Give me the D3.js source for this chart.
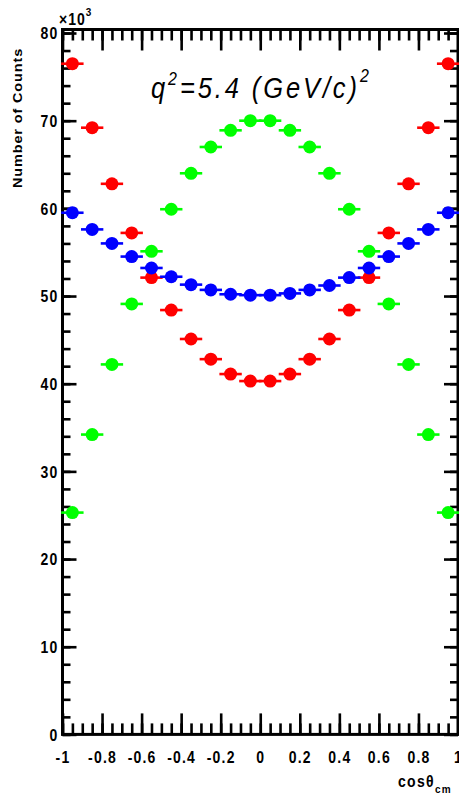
<!DOCTYPE html>
<html>
<head>
<meta charset="utf-8">
<script src="https://cdn.jsdelivr.net/npm/d3@7"></script>
<style>
  html, body { margin: 0; padding: 0; background: #fff; overflow: hidden; }
  svg { display: block; }
</style>
</head>
<body>
<script>
// cos(theta_cm) bin centres (bin width 0.1)
const binCenters = [-0.95, -0.85, -0.75, -0.65, -0.55, -0.45, -0.35, -0.25, -0.15, -0.05,
                     0.05,  0.15,  0.25,  0.35,  0.45,  0.55,  0.65,  0.75,  0.85,  0.95];
const binHalfWidth = 0.05;

// Number of counts per bin, in units of 10^3
const redCounts   = [76.5, 69.2, 62.8, 57.2, 52.1, 48.4, 45.1, 42.8, 41.1, 40.3,
                     40.3, 41.1, 42.8, 45.1, 48.4, 52.1, 57.2, 62.8, 69.2, 76.5];
const greenCounts = [25.3, 34.2, 42.2, 49.1, 55.1, 59.9, 64.0, 67.0, 68.9, 70.0,
                     70.0, 68.9, 67.0, 64.0, 59.9, 55.1, 49.1, 42.2, 34.2, 25.3];
const blueCounts  = [59.5, 57.6, 56.0, 54.5, 53.2, 52.2, 51.3, 50.7, 50.2, 50.1,
                     50.1, 50.3, 50.7, 51.2, 52.1, 53.2, 54.5, 56.0, 57.6, 59.5];

// Axis ticks
const xTickValues = [-1, -0.8, -0.6, -0.4, -0.2, 0, 0.2, 0.4, 0.6, 0.8, 1];
const yTickValues = [0, 10, 20, 30, 40, 50, 60, 70, 80];
const xMinorTicks = d3.range(41).map(i => -1 + i * 0.05);
const yMinorTicks = d3.range(41).map(i => i * 2);

const series = [
  { name: "red",   color: "#ff0000", values: redCounts },
  { name: "green", color: "#00ff00", values: greenCounts },
  { name: "blue",  color: "#0000ff", values: blueCounts }
];

const W = 459, H = 794;
const frame = { left: 62.5, right: 458, top: 29.5, bottom: 734.4 };
const FONT = "'Liberation Sans', Arial, Helvetica, sans-serif";
const SY = 1.15; // vertical stretch of the lettering

const svg = d3.select("body").append("svg")
  .attr("width", W).attr("height", H)
  .attr("viewBox", `0 0 ${W} ${H}`);

const x = d3.scaleLinear().domain([-1, 1]).range([frame.left, frame.right]);
const y = d3.scaleLinear().domain([0, 80.4]).range([frame.bottom, frame.top]);

// ---- tick marks on all four sides, pointing inwards ----
function tickMarks(axis, translate, values, size) {
  svg.append("g")
    .attr("transform", translate)
    .call(axis.tickValues(values).tickSizeInner(size).tickSizeOuter(0).tickFormat(""))
    .call(g => g.select(".domain").remove())
    .call(g => g.selectAll("line").attr("stroke", "#000").attr("stroke-width", 2.6));
}
tickMarks(d3.axisBottom(x), `translate(0,${frame.bottom})`, xMinorTicks, -11);
tickMarks(d3.axisBottom(x), `translate(0,${frame.bottom})`, xTickValues, -21);
tickMarks(d3.axisTop(x),    `translate(0,${frame.top})`,    xMinorTicks, -11);
tickMarks(d3.axisTop(x),    `translate(0,${frame.top})`,    xTickValues, -21);
tickMarks(d3.axisLeft(y),   `translate(${frame.left},0)`,   yMinorTicks, -8);
tickMarks(d3.axisLeft(y),   `translate(${frame.left},0)`,   yTickValues, -14);
tickMarks(d3.axisRight(y),  `translate(${frame.right},0)`,  yMinorTicks, -8);
tickMarks(d3.axisRight(y),  `translate(${frame.right},0)`,  yTickValues, -14);

// ---- frame ----
svg.append("rect")
  .attr("x", frame.left).attr("y", frame.top)
  .attr("width", frame.right - frame.left).attr("height", frame.bottom - frame.top)
  .attr("fill", "none").attr("stroke", "#000").attr("stroke-width", 3);

// ---- tick labels ----
const fmt = d => String(+d.toFixed(1));

svg.append("g")
  .attr("transform", `translate(0,${frame.bottom})`)
  .call(d3.axisBottom(x).tickValues(xTickValues).tickSize(0).tickFormat(fmt))
  .call(g => g.select(".domain").remove())
  .call(g => g.selectAll("text")
    .attr("y", null).attr("dy", null)
    .attr("transform", `translate(0,29) scale(1,${SY})`)
    .attr("font-family", FONT).attr("font-size", 14).attr("font-weight", "bold")
    .attr("letter-spacing", 1.2).attr("fill", "#000"));

svg.append("g")
  .attr("transform", `translate(${frame.left},0)`)
  .call(d3.axisLeft(y).tickValues(yTickValues).tickSize(0).tickFormat(fmt))
  .call(g => g.select(".domain").remove())
  .call(g => g.selectAll("text")
    .attr("x", null).attr("dy", "0.36em")
    .attr("transform", `translate(-4,0) scale(1,${SY})`)
    .attr("font-family", FONT).attr("font-size", 14).attr("font-weight", "bold")
    .attr("letter-spacing", 1.2).attr("fill", "#000"));

// exponent of the y axis
const expo = svg.append("text")
  .attr("transform", `translate(59,25) scale(1,${SY})`)
  .attr("font-family", FONT).attr("font-size", 14).attr("font-weight", "bold")
  .attr("letter-spacing", 1);
expo.append("tspan").text("\u00d710");
expo.append("tspan").attr("font-size", 10).attr("dy", -8).text("3");

// ---- axis titles ----
svg.append("text")
  .attr("transform", `translate(22,188) scale(1,${SY}) rotate(-90)`)
  .attr("text-anchor", "start")
  .attr("font-family", FONT).attr("font-size", 12.5).attr("font-weight", "bold")
  .attr("letter-spacing", 0.8)
  .text("Number of Counts");

const xt = svg.append("text")
  .attr("transform", `translate(398,787) scale(1,${SY})`)
  .attr("font-family", FONT).attr("font-size", 14).attr("font-weight", "bold")
  .attr("letter-spacing", 1.3);
xt.append("tspan").text("cos\u03b8");
xt.append("tspan").attr("font-size", 10).attr("dy", 5).text("cm");

// ---- panel title ----
const title = svg.append("text")
  .attr("transform", `translate(151,98) scale(1,${SY})`)
  .attr("font-family", FONT).attr("font-size", 25.5).attr("font-style", "italic")
  .attr("letter-spacing", 2.9);
title.append("tspan").text("q");
title.append("tspan").attr("font-size", 16).attr("dy", -11).text("2");
title.append("tspan").attr("dy", 11).text("=5.4 (GeV/c)");
title.append("tspan").attr("font-size", 16).attr("dy", -14).text("2");

// ---- data points with bin-width error bars ----
series.forEach(s => {
  const g = svg.append("g").attr("class", `series-${s.name}`);
  const pts = binCenters.map((c, i) => ({ c, v: s.values[i] }));
  g.selectAll("line").data(pts).join("line")
    .attr("x1", d => x(d.c - binHalfWidth))
    .attr("x2", d => x(d.c + binHalfWidth))
    .attr("y1", d => y(d.v)).attr("y2", d => y(d.v))
    .attr("stroke", s.color).attr("stroke-width", 2.6)
    .attr("stroke-linecap", "square");
  g.selectAll("circle").data(pts).join("circle")
    .attr("cx", d => x(d.c)).attr("cy", d => y(d.v))
    .attr("r", 6.5)
    .attr("fill", s.color);
});
</script>
</body>
</html>
